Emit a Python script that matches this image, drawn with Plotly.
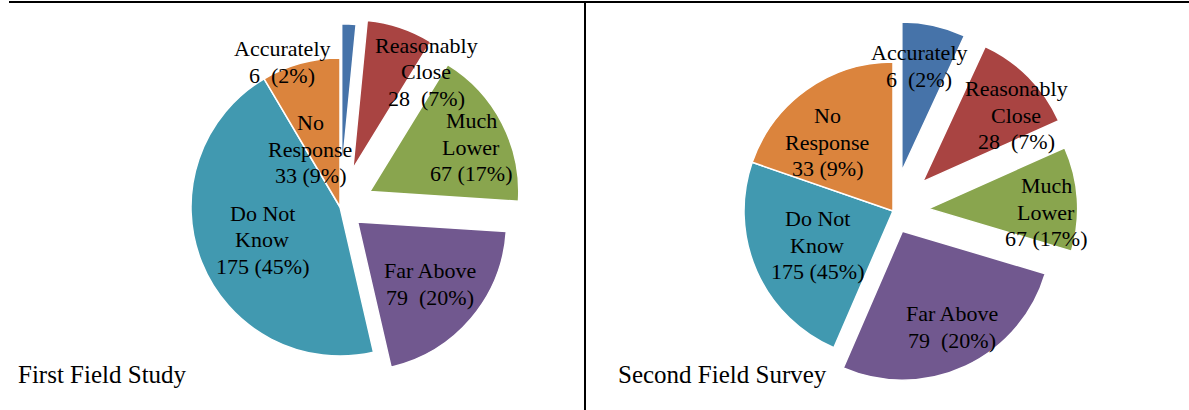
import plotly.graph_objects as go

# ---------------- data ----------------
categories = ["Accurately", "Reasonably Close", "Much Lower", "Far Above", "Do Not Know", "No Response"]
label_lines = [["Accurately"], ["Reasonably", "Close"], ["Much", "Lower"], ["Far Above"],
               ["Do Not", "Know"], ["No", "Response"]]
counts = [6, 28, 67, 79, 175, 33]
# slice sizes of the second pie as drawn in the reference (percent of circle)
second_shares = [6.9, 11.4, 11.3, 26.9, 23.8, 19.7]
chart_titles = ["First Field Study", "Second Field Survey"]

colors = ["#4673A9", "#A94442", "#89A54E", "#71588F", "#4199B0", "#DB843D"]

W, H = 1189, 410
FONT = "Liberation Serif, Times New Roman, serif"

total = sum(counts)
pcts = [round(c * 100 / total) for c in counts]
gap = ["\u00a0 ", "\u00a0 ", " ", "\u00a0 ", " ", " "]
value_line = [f"{c}{g}({p}%)" for c, g, p in zip(counts, gap, pcts)]
label_text = [lines + [v] for lines, v in zip(label_lines, value_line)]

pulls1 = [0.23, 0.27, 0.225, 0.155, 0, 0]
pulls2 = [0.275, 0.28, 0.24, 0.15, 0, 0]


def dom_x(cx, half):
    return [(cx - half) / W, (cx + half) / W]


def dom_y(cy, half):
    yb = H - cy
    return [(yb - half) / H, (yb + half) / H]


r = 149
fig = go.Figure()
fig.add_trace(go.Pie(
    labels=categories, values=counts, sort=False, direction="clockwise", rotation=0,
    pull=pulls1, marker=dict(colors=colors, line=dict(color="white", width=1.5)),
    textinfo="none", hoverinfo="label+value+percent", showlegend=False,
    domain=dict(x=dom_x(340, r * (1 + max(pulls1))), y=dom_y(207, r * (1 + max(pulls1)))),
))
fig.add_trace(go.Pie(
    labels=categories, values=second_shares, sort=False, direction="clockwise", rotation=0,
    pull=pulls2, marker=dict(colors=colors, line=dict(color="white", width=1.5)),
    textinfo="none", hoverinfo="label", showlegend=False,
    domain=dict(x=dom_x(893, r * (1 + max(pulls2))), y=dom_y(211, r * (1 + max(pulls2)))),
))

# label block centres (pixels) for each pie
pos1 = [(282, 62), (426, 72), (471, 147), (430, 284), (262, 240), (310, 149)]
pos2 = [(919, 66), (1016, 115), (1046, 212), (952, 327), (817, 245), (827, 142)]
LINE = 26.5

annotations = []
for pos in (pos1, pos2):
    for (px, py), lines in zip(pos, label_text):
        n = len(lines)
        for i, ln in enumerate(lines):
            ly = py + (i - (n - 1) / 2) * LINE
            annotations.append(dict(
                x=px / W, y=1 - ly / H, xref="paper", yref="paper", text=ln, showarrow=False,
                xanchor="center", yanchor="middle", align="center",
                font=dict(family=FONT, size=22, color="black"),
            ))

for (px, py), t in zip([(16, 374), (616, 374)], chart_titles):
    annotations.append(dict(
        x=px / W, y=1 - py / H, xref="paper", yref="paper", text=t, showarrow=False,
        xanchor="left", yanchor="middle", align="left",
        font=dict(family=FONT, size=25, color="black"),
    ))

shapes = [
    dict(type="line", xref="paper", yref="paper", x0=9 / W, x1=1, y0=1 - 2 / H, y1=1 - 2 / H,
         line=dict(color="black", width=2)),
    dict(type="line", xref="paper", yref="paper", x0=585 / W, x1=585 / W, y0=0, y1=1 - 2 / H,
         line=dict(color="black", width=2)),
]

fig.update_layout(
    width=W, height=H, margin=dict(l=0, r=0, t=0, b=0),
    paper_bgcolor="white", plot_bgcolor="white",
    annotations=annotations, shapes=shapes, showlegend=False,
)
fig.write_html("out.html", config={"displayModeBar": False})
